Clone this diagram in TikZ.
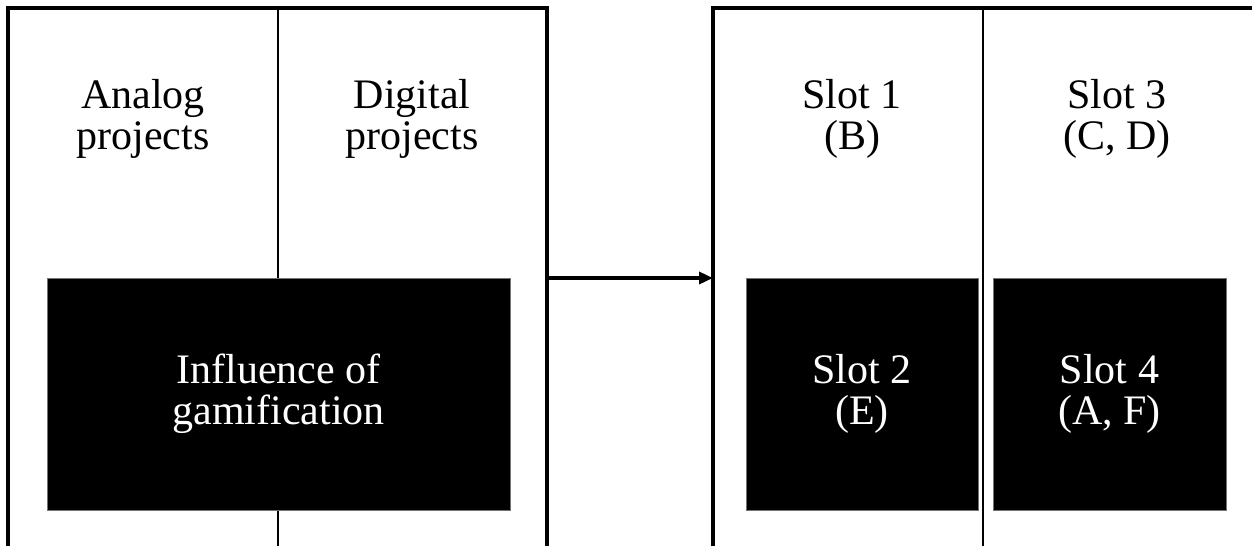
\documentclass[tikz,border=0pt]{standalone}
\usepackage{fontspec}
\setmainfont{Liberation Serif}
\usetikzlibrary{positioning,arrows.meta}
\tikzset{
	frameline/.style={line width=3.4pt},
	midline/.style={line width=2.6pt},
	toptext/.style={align=center, inner sep=0pt, font=\fontsize{42}{41}\selectfont},
	blackbox/.style={fill=black, draw=black!55, line width=0.8pt, text=white, align=center, inner sep=0pt, font=\fontsize{42}{41}\selectfont},
}
\begin{document}
\begin{tikzpicture}[x=1pt,y=-1pt]
			\useasboundingbox[fill=white] (0,0) rectangle (1252,546);
			% left frame and its divider
			\draw[midline] (278,8) -- (278,546);
			\draw[frameline] (8,546) -- (8,8) -- (547,8) -- (547,546);
			\coordinate (lout) at (547,278);
			% right frame, open on the right
			\draw[midline] (983,8) -- (983,546);
			\draw[frameline] (713,546) -- (713,8) -- (1252,8);
			\coordinate (rin) at (713,278);
			\node[toptext] (analog) at (143,119) {Analog\\projects};
			\node[toptext] (digital) at (412,119) {Digital\\projects};
			\node[blackbox, minimum width=463pt, minimum height=232pt] (gamif) at (278.5,394) {Influence of\\gamification};
			\node[toptext] (slot1) at (852,119) {Slot 1\\(B)};
			\node[toptext] (slot3) at (1117,119) {Slot 3\\(C, D)};
			\node[blackbox, minimum width=232pt, minimum height=232pt] (slot2) at (862,394) {Slot 2\\(E)};
			\node[blackbox, minimum width=233pt, minimum height=232pt] (slot4) at (1109.5,394) {Slot 4\\(A, F)};
			\draw[line width=3.4pt, -{Triangle[length=14pt, width=12pt]}] (lout) -- (rin);
		\end{tikzpicture}
\end{document}
